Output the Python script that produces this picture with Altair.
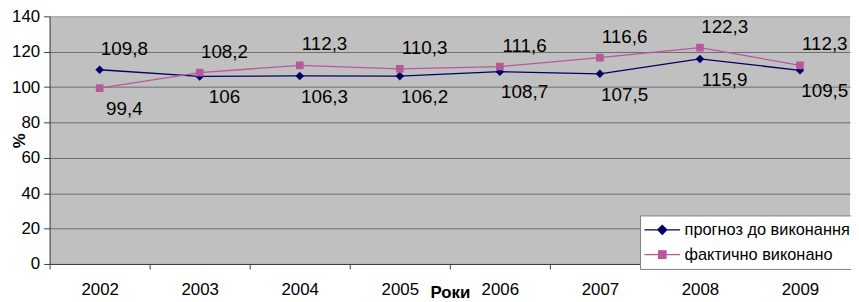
import altair as alt
import pandas as pd

years = ["2002", "2003", "2004", "2005", "2006", "2007", "2008", "2009"]
forecast = [109.8, 106, 106.3, 106.2, 108.7, 107.5, 115.9, 109.5]
actual = [99.4, 108.2, 112.3, 110.3, 111.6, 116.6, 122.3, 112.3]
forecast_label_above = [True, False, False, False, False, False, False, False]
actual_label_above = [False, True, True, True, True, True, True, True]
series_names = ["прогноз до виконання", "фактично виконано"]
series_colors = ["#000066", "#b8589c"]
y_ticks = [0, 20, 40, 60, 80, 100, 120, 140]

rows = []
for name, vals, above in [(series_names[0], forecast, forecast_label_above),
                          (series_names[1], actual, actual_label_above)]:
    for y, v, a in zip(years, vals, above):
        rows.append({"year": y, "value": v, "series": name,
                     "label": f"{v:g}".replace(".", ","), "above": a})
df = pd.DataFrame(rows)

FONT = "Liberation Sans"

x_enc = alt.X("year:N", bandPosition=0.5,
              scale=alt.Scale(type="band", paddingInner=0, paddingOuter=0),
              axis=alt.Axis(title="Роки", tickBand="extent", labelAngle=0,
                            labelFont=FONT, labelFontSize=17, labelColor="#000",
                            labelPadding=13, tickSize=5, tickColor="#404040",
                            domainColor="#404040", grid=False,
                            titleFont=FONT, titleFontSize=17, titleFontWeight="bold",
                            titleColor="#000", titleY=34, titleBaseline="alphabetic"))
y_enc = alt.Y("value:Q", scale=alt.Scale(domain=[0, 140], nice=False, zero=True),
              axis=alt.Axis(values=y_ticks, title="%", labelFont=FONT, labelFontSize=17,
                            labelColor="#000", labelPadding=4, tickSize=6,
                            tickColor="#404040", domainColor="#404040",
                            gridColor={"condition": {"test": "datum.value == 140", "value": "#a0a0a0"},
                                       "value": "#6e6e6e"},
                            gridWidth=1,
                            titleFont=FONT, titleFontSize=17, titleFontWeight="bold",
                            titleColor="#000", titleX=-30, titleY=125, titleAngle=-90,
                            titleAlign="center", titleBaseline="middle"))

base = alt.Chart(df)

def series_layers(name, color, shape, size):
    sub = base.transform_filter(alt.datum.series == name)
    ln = sub.mark_line(strokeWidth=1.3, color=color).encode(x=x_enc, y=y_enc)
    pt = sub.mark_point(filled=True, shape=shape, size=size, color=color,
                        opacity=1).encode(x=x_enc, y=y_enc)
    return [ln, pt]

layers = []
layers += series_layers(series_names[0], series_colors[0], "diamond", 75)
layers += series_layers(series_names[1], series_colors[1], "square", 60)

txt_above = base.transform_filter(alt.datum.above == True).mark_text(
    font=FONT, fontSize=19, color="#000", dx=25, dy=-21, baseline="middle", align="center"
).encode(x=x_enc, y=y_enc, text="label:N")

txt_below = base.transform_filter(alt.datum.above == False).mark_text(
    font=FONT, fontSize=19, color="#000", dx=25, dy=21, baseline="middle", align="center"
).encode(x=x_enc, y=y_enc, text="label:N")

legend_shapes = ["M-2.4,0H2.4M0,-0.6L0.6,0L0,0.6L-0.6,0Z",
                 "M-2.4,0H2.4M-0.5,-0.5H0.5V0.5H-0.5Z"]

leg = alt.Legend(title=None, orient="none", legendX=596, legendY=201,
                 fillColor="#ffffff", strokeColor="#808080",
                 padding=6, symbolSize=225, symbolOffset=8,
                 labelOffset=14, rowPadding=8, labelLimit=400,
                 symbolStrokeWidth=1.3, symbolOpacity=1,
                 labelFont=FONT, labelFontSize=16.5, labelColor="#000")

legend_layer = base.transform_filter(alt.datum.value < 0).mark_point(
    filled=True, strokeWidth=1.3, opacity=1
).encode(
    x=x_enc, y=y_enc,
    color=alt.Color("series:N", scale=alt.Scale(domain=series_names, range=series_colors),
                    legend=leg),
    stroke=alt.Stroke("series:N", scale=alt.Scale(domain=series_names, range=series_colors),
                      legend=leg),
    shape=alt.Shape("series:N", scale=alt.Scale(domain=series_names, range=legend_shapes),
                    legend=leg),
)

chart = alt.layer(*layers, txt_above, txt_below, legend_layer).properties(
    width=808, height=250,
    autosize=alt.AutoSizeParams(type="none"),
    padding={"left": 42, "top": 7, "right": 1, "bottom": 40},
    background="#ffffff",
).configure_view(fill="#c0c0c0", stroke=None)

chart.save("out.html", embed_options={"renderer": "svg", "actions": False})
